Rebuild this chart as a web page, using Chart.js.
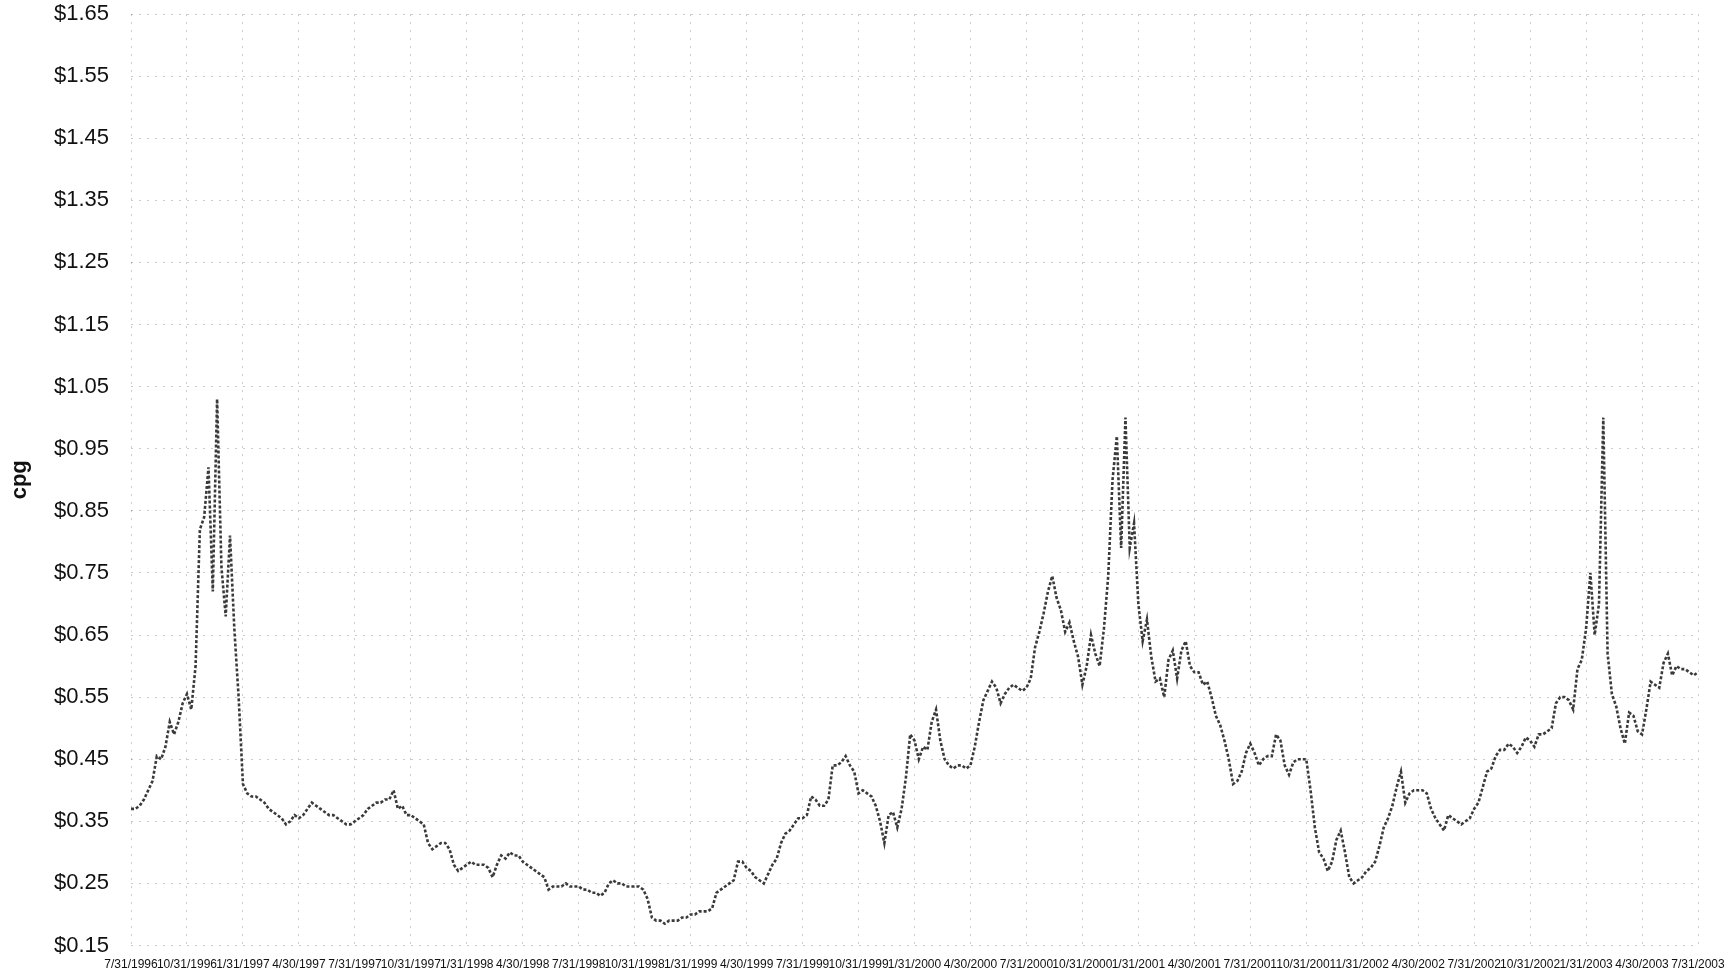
<!DOCTYPE html>
<html>
<head>
<meta charset="utf-8">
<script src="https://cdn.jsdelivr.net/npm/chart.js@4.4.1/dist/chart.umd.min.js"></script>
<style>
  html, body { margin: 0; padding: 0; background: #fff; }
  #wrap { width: 1736px; height: 975px; }
</style>
</head>
<body>
<div id="wrap"><canvas id="myChart"></canvas></div>
<script>
// quarter-end tick labels along the bottom
const quarterLabels = [
  "7/31/1996", "10/31/1996", "1/31/1997", "4/30/1997",
  "7/31/1997", "10/31/1997", "1/31/1998", "4/30/1998",
  "7/31/1998", "10/31/1998", "1/31/1999", "4/30/1999",
  "7/31/1999", "10/31/1999", "1/31/2000", "4/30/2000",
  "7/31/2000", "10/31/2000", "1/31/2001", "4/30/2001",
  "7/31/2001", "10/31/2001", "1/31/2002", "4/30/2002",
  "7/31/2002", "10/31/2002", "1/31/2003", "4/30/2003",
  "7/31/2003",
];

const weeksPerQuarter = 13;

// weekly price, $ per gallon (13 readings per quarter)
const weeklyPrices = [
  0.37, 0.37, 0.375, 0.385, 0.40, 0.415, 0.455, 0.45, 0.47, 0.51, 0.49, 0.51, 0.54,
  0.555, 0.53, 0.60, 0.82, 0.84, 0.92, 0.72, 1.03, 0.76, 0.68, 0.81, 0.66, 0.55,
  0.41, 0.395, 0.39, 0.39, 0.385, 0.38, 0.37, 0.365, 0.36, 0.355, 0.345, 0.35, 0.36,
  0.355, 0.36, 0.37, 0.38, 0.375, 0.37, 0.365, 0.36, 0.36, 0.355, 0.35, 0.345, 0.345,
  0.35, 0.355, 0.36, 0.37, 0.375, 0.38, 0.38, 0.385, 0.385, 0.40, 0.37, 0.375, 0.36,
  0.36, 0.355, 0.35, 0.345, 0.315, 0.305, 0.31, 0.315, 0.315, 0.305, 0.28, 0.27, 0.275,
  0.28, 0.285, 0.28, 0.28, 0.28, 0.275, 0.26, 0.28, 0.295, 0.29, 0.30, 0.295, 0.295,
  0.285, 0.28, 0.275, 0.27, 0.265, 0.26, 0.24, 0.245, 0.245, 0.245, 0.25, 0.245, 0.245,
  0.245, 0.24, 0.24, 0.235, 0.235, 0.23, 0.235, 0.25, 0.255, 0.25, 0.25, 0.245, 0.245,
  0.245, 0.245, 0.24, 0.225, 0.195, 0.19, 0.19, 0.185, 0.19, 0.19, 0.19, 0.195, 0.195,
  0.20, 0.20, 0.205, 0.205, 0.205, 0.21, 0.235, 0.24, 0.245, 0.25, 0.255, 0.285, 0.285,
  0.275, 0.27, 0.26, 0.255, 0.25, 0.265, 0.28, 0.29, 0.315, 0.33, 0.335, 0.345, 0.355,
  0.355, 0.36, 0.39, 0.385, 0.375, 0.375, 0.385, 0.44, 0.44, 0.445, 0.455, 0.44, 0.43,
  0.395, 0.40, 0.395, 0.39, 0.375, 0.35, 0.315, 0.36, 0.365, 0.34, 0.37, 0.42, 0.49,
  0.48, 0.45, 0.47, 0.465, 0.51, 0.53, 0.48, 0.45, 0.44, 0.435, 0.44, 0.44, 0.435,
  0.44, 0.47, 0.51, 0.545, 0.56, 0.575, 0.565, 0.54, 0.555, 0.565, 0.57, 0.565, 0.56,
  0.565, 0.58, 0.63, 0.655, 0.685, 0.72, 0.745, 0.71, 0.69, 0.655, 0.67, 0.64, 0.615,
  0.57, 0.60, 0.65, 0.62, 0.60, 0.66, 0.745, 0.90, 0.97, 0.79, 1.00, 0.79, 0.83,
  0.70, 0.64, 0.675, 0.615, 0.575, 0.58, 0.55, 0.61, 0.625, 0.58, 0.625, 0.64, 0.60,
  0.59, 0.59, 0.57, 0.575, 0.55, 0.52, 0.505, 0.48, 0.45, 0.41, 0.415, 0.43, 0.46,
  0.475, 0.46, 0.44, 0.45, 0.455, 0.455, 0.49, 0.48, 0.44, 0.425, 0.445, 0.45, 0.45,
  0.45, 0.40, 0.34, 0.30, 0.29, 0.27, 0.285, 0.32, 0.335, 0.30, 0.26, 0.25, 0.255,
  0.26, 0.27, 0.275, 0.285, 0.31, 0.34, 0.355, 0.375, 0.405, 0.43, 0.38, 0.395, 0.40,
  0.40, 0.40, 0.395, 0.37, 0.355, 0.345, 0.335, 0.36, 0.355, 0.35, 0.345, 0.35, 0.355,
  0.37, 0.38, 0.405, 0.43, 0.435, 0.455, 0.465, 0.465, 0.475, 0.47, 0.46, 0.47, 0.485,
  0.48, 0.47, 0.49, 0.49, 0.495, 0.50, 0.54, 0.55, 0.55, 0.545, 0.53, 0.595, 0.61,
  0.66, 0.75, 0.65, 0.70, 1.00, 0.62, 0.555, 0.535, 0.50, 0.475, 0.525, 0.52, 0.495,
  0.49, 0.53, 0.575, 0.57, 0.565, 0.605, 0.62, 0.585, 0.60, 0.595, 0.595, 0.59, 0.585,
  0.59,
];

const yMin = 0.15;
const yMax = 1.65;
const yStep = 0.10;

const points = weeklyPrices.map((v, i) => ({ x: i / weeksPerQuarter, y: v }));

const gridColor = "rgba(0,0,0,0.2)";

const ctx = document.getElementById("myChart");
new Chart(ctx, {
  type: "line",
  data: {
    datasets: [
      {
        label: "cpg",
        data: points,
        borderColor: "#3a3a3a",
        borderWidth: 2.6,
        borderDash: [3, 2],
        pointRadius: 0,
        tension: 0,
        fill: false,
      },
    ],
  },
  options: {
    responsive: true,
    maintainAspectRatio: false,
    animation: false,
    layout: {
      padding: { left: 0, top: 14, right: 38, bottom: 0 },
    },
    plugins: {
      legend: { display: false },
      tooltip: { enabled: false },
    },
    scales: {
      x: {
        type: "linear",
        min: 0,
        max: quarterLabels.length - 1,
        afterFit: (axis) => {
          axis.height = 29.5;
          // label overflow is handled by the layout padding instead
          axis.paddingLeft = 0;
          axis.paddingRight = 0;
        },
        afterBuildTicks: (axis) => {
          axis.ticks = quarterLabels.map((_, i) => ({ value: i }));
        },
        ticks: {
          autoSkip: false,
          maxRotation: 0,
          minRotation: 0,
          padding: 12,
          color: "#111",
          font: { family: "'Liberation Sans', Arial, sans-serif", size: 12 },
          callback: (value) => quarterLabels[value],
        },
        grid: {
          color: gridColor,
          lineWidth: 1,
          drawTicks: false,
        },
        border: { display: false, dash: [2, 6] },
      },
      y: {
        min: yMin,
        max: yMax,
        afterFit: (axis) => {
          axis.width = 131;
          axis.paddingTop = 0;
          axis.paddingBottom = 0;
        },
        ticks: {
          stepSize: yStep,
          padding: 22,
          color: "#111",
          font: { family: "'Liberation Sans', Arial, sans-serif", size: 22 },
          callback: (value) => "$" + Number(value).toFixed(2),
        },
        grid: {
          color: gridColor,
          lineWidth: 1,
          drawTicks: false,
        },
        border: { display: false, dash: [2, 6] },
        title: {
          display: true,
          text: "cpg",
          color: "#111",
          padding: { top: 7, bottom: 0 },
          font: { family: "'Liberation Sans', Arial, sans-serif", size: 22, weight: "bold" },
        },
      },
    },
  },
});
</script>
</body>
</html>
